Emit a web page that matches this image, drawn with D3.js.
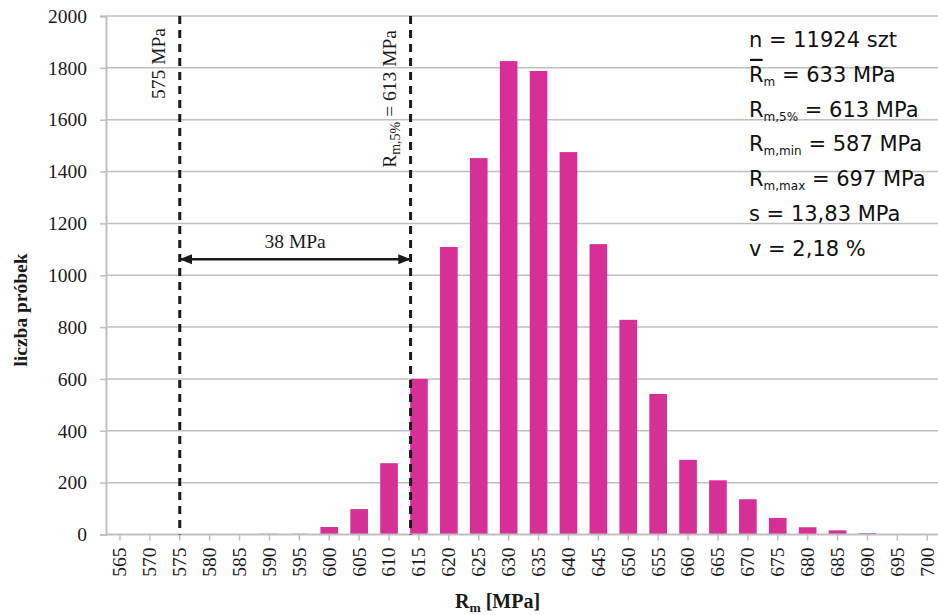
<!DOCTYPE html>
<html><head><meta charset="utf-8">
<script src="https://cdn.jsdelivr.net/npm/d3@7"></script>
<style>
body{margin:0;background:#fff}
svg{display:block}
</style></head>
<body>
<svg id="c" width="938" height="615"></svg>
<script>
const categories = [565,570,575,580,585,590,595,600,605,610,615,620,625,630,635,640,645,650,655,660,665,670,675,680,685,690,695,700];
const counts =     [0,0,0,0,0,3,3,29,98,275,600,1109,1452,1826,1788,1475,1120,828,542,288,209,136,64,28,16,5,0,0];
const yTicks = [0,200,400,600,800,1000,1200,1400,1600,1800,2000];
const markerPos = [575, 613.6];
const markerLabels = ["575", "613"];
const arrowLevel = 1062;
const arrowText = "38 MPa";
const statsLines = [
  {main:"n = 11924 szt", sub:"", rest:"", plain:true},
  {main:"R", sub:"m", rest:" = 633 MPa", over:true},
  {main:"R", sub:"m,5%", rest:" = 613 MPa"},
  {main:"R", sub:"m,min", rest:" = 587 MPa"},
  {main:"R", sub:"m,max", rest:" = 697 MPa"},
  {main:"s = 13,83 MPa", sub:"", rest:"", plain:true},
  {main:"v = 2,18 %", sub:"", rest:"", plain:true}
];

(function(){
const svg = d3.select("#c");
const W = 938, H = 615;
const pLeft = 106, pTop = 16, pBottom = 534.5;
const band = 29.9;
const pRight = pLeft + band*categories.length - 1;

const x = d3.scaleBand().domain(categories).range([pLeft-1, pRight]).paddingInner(0.41).paddingOuter(0.205);
const xv = d3.scaleLinear().domain([565, 700]).range([x(565)+x.bandwidth()/2, x(700)+x.bandwidth()/2]);
const y = d3.scaleLinear().domain([0, 2000]).range([pBottom, pTop]);

const serif = "'Liberation Serif','Times New Roman',serif";
const sans = "'DejaVu Sans',Verdana,sans-serif";
const grid = "#BFBFBF";

svg.append("g").selectAll("line").data(yTicks.filter(d=>d>0)).join("line")
  .attr("x1", pLeft).attr("x2", W).attr("y1", d=>y(d)).attr("y2", d=>y(d))
  .attr("stroke", grid).attr("stroke-width", 1.5);

const ya = svg.append("g").attr("transform", `translate(${pLeft},0)`)
  .call(d3.axisLeft(y).tickValues(yTicks).tickSize(6).tickPadding(13).tickFormat(d3.format("d")));
ya.select(".domain").attr("stroke", grid).attr("stroke-width", 2);
ya.selectAll(".tick line").attr("stroke", grid).attr("stroke-width", 1.5);
ya.selectAll(".tick text").attr("font-family", serif).attr("font-size", 19.5).attr("fill", "#1a1a1a");

svg.append("g").selectAll("rect").data(categories.map((c,i)=>({c, v:counts[i]}))).join("rect")
  .attr("x", d=>x(d.c)).attr("width", x.bandwidth())
  .attr("y", d=>y(d.v)).attr("height", d=>pBottom - y(d.v))
  .attr("fill", "#D62F96");

const xa = svg.append("g").attr("transform", `translate(0,${pBottom})`)
  .call(d3.axisBottom(x).tickSize(6).tickPadding(0));
xa.select(".domain").attr("stroke", grid).attr("stroke-width", 2).attr("d", `M${pLeft},0H${W}`);
xa.selectAll(".tick line").attr("stroke", grid).attr("stroke-width", 1.5);
xa.selectAll(".tick text").attr("font-family", serif).attr("font-size", 19.5).attr("fill", "#1a1a1a")
  .attr("transform", "rotate(-90)").attr("text-anchor", "end")
  .attr("x", -13).attr("y", 0).attr("dy", "0.33em");

svg.append("g").selectAll("line").data(markerPos).join("line")
  .attr("x1", d=>xv(d)).attr("x2", d=>xv(d)).attr("y1", pTop).attr("y2", pBottom)
  .attr("stroke", "#1a1a1a").attr("stroke-width", 3).attr("stroke-dasharray", "8,6");

svg.append("text").attr("transform", `translate(${xv(markerPos[0])-15},28) rotate(-90)`)
  .attr("text-anchor", "end").attr("font-family", serif).attr("font-size", 19.5).attr("fill", "#1a1a1a")
  .text(markerLabels[0] + " MPa");
const m2 = svg.append("text").attr("transform", `translate(${xv(markerPos[1])-15},30) rotate(-90)`)
  .attr("text-anchor", "end").attr("font-family", serif).attr("font-size", 19.5).attr("fill", "#1a1a1a");
m2.append("tspan").text("R");
m2.append("tspan").attr("font-size", 14).attr("dy", 4).text("m,5%");
m2.append("tspan").attr("dy", -4).text(" = " + markerLabels[1] + " MPa");

const defs = svg.append("defs");
["s","e"].forEach(k=>{
  defs.append("marker").attr("id","ar"+k).attr("viewBox","0 0 10 10").attr("refX", 9).attr("refY",5)
    .attr("markerWidth",5).attr("markerHeight",5).attr("orient", k==="s"?"auto-start-reverse":"auto")
    .append("path").attr("d","M0,1L10,5L0,9Z").attr("fill","#1a1a1a");
});
svg.append("line").attr("x1", xv(markerPos[0])+1).attr("x2", xv(markerPos[1])-1)
  .attr("y1", y(arrowLevel)).attr("y2", y(arrowLevel))
  .attr("stroke","#1a1a1a").attr("stroke-width",2.5)
  .attr("marker-start","url(#ars)").attr("marker-end","url(#are)");
svg.append("text").attr("x", (xv(markerPos[0])+xv(markerPos[1]))/2).attr("y", y(arrowLevel)-11)
  .attr("text-anchor","middle").attr("font-family", serif).attr("font-size", 19.5).attr("fill","#1a1a1a")
  .text(arrowText);

svg.append("text").attr("transform", "translate(27,310) rotate(-90)").attr("text-anchor","middle")
  .attr("font-family", serif).attr("font-weight","bold").attr("font-size", 19.5).attr("fill","#1a1a1a")
  .text("liczba próbek");
const xt = svg.append("text").attr("x", 455).attr("y", 608)
  .attr("font-family", serif).attr("font-weight","bold").attr("font-size", 20).attr("fill","#1a1a1a");
xt.append("tspan").text("R");
xt.append("tspan").attr("font-size", 13.5).attr("dy", 4).text("m");
xt.append("tspan").attr("dy", -4).text(" [MPa]");

const sx = 749, sy0 = 47, sdy = 34.8;
statsLines.forEach((l,i)=>{
  const t = svg.append("text").attr("x", sx).attr("y", sy0 + i*sdy)
    .attr("font-family", sans).attr("font-size", 21).attr("fill", "#111");
  if (l.plain) { t.text(l.main); return; }
  const r = t.append("tspan").text(l.main);
  t.append("tspan").attr("font-size", 12).attr("dy", 4).text(l.sub);
  t.append("tspan").attr("dy", -4).text(l.rest);
  if (l.over) {
    const w = r.node().getComputedTextLength();
    svg.append("rect").attr("x", sx+1).attr("y", sy0 + i*sdy - 23).attr("width", w-2).attr("height", 2.2).attr("fill","#111");
  }
});
})();
</script>
</body></html>
